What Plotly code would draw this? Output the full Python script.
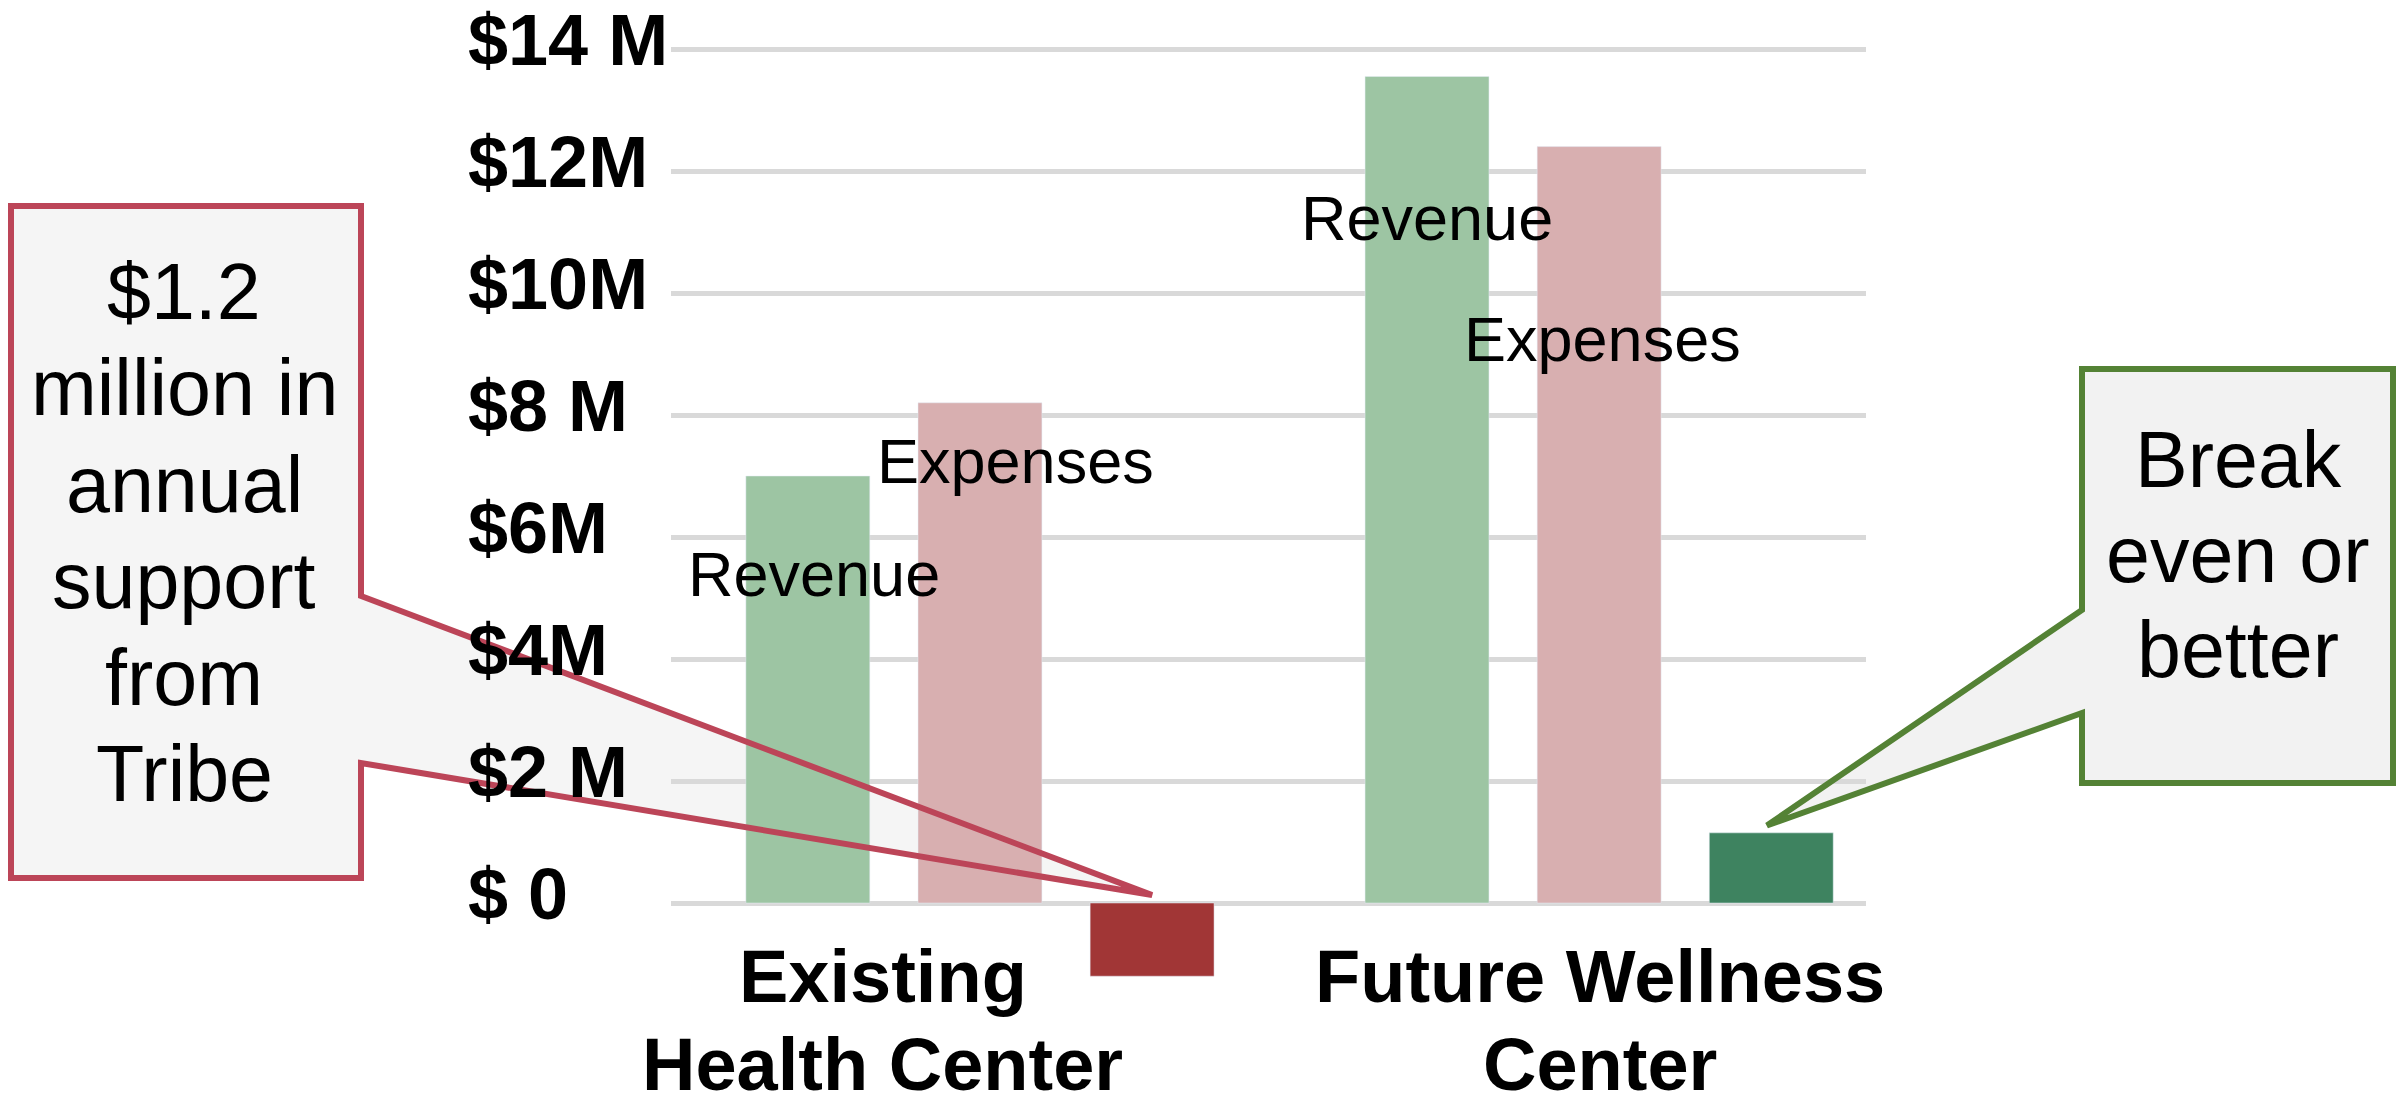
import plotly.graph_objects as go

# ---------------- data ----------------
categories = ["Existing Health Center", "Future Wellness Center"]
category_label_lines = [["Existing", "Health Center"], ["Future Wellness", "Center"]]
revenue = [7.0, 13.55]          # $ millions
expenses = [8.2, 12.4]          # $ millions
net = [-1.2, 1.15]              # $ millions
tick_values = [14, 12, 10, 8, 6, 4, 2, 0]
tick_labels = ["$14 M", "$12M", "$10M", "$8 M", "$6M", "$4M", "$2 M", "$ 0"]
red_callout_lines = ["$1.2", "million in", "annual", "support", "from", "Tribe"]
green_callout_lines = ["Break", "even or", "better"]

# ---------------- style ----------------
OFF = 8                      # default page body margin
W, H = 2408 - 2 * OFF, 1101 - 2 * OFF
FONT = "Liberation Sans, Arial, Helvetica, sans-serif"
C_REV = "#9DC5A3"
C_EXP = "#D8AFB0"
C_NET = ["#A13636", "#3E8360"]
C_GRID = "#D9D9D9"
C_RED_LINE = "#BC4558"
C_GREEN_LINE = "#548235"

ML = 671 - OFF
MR = W - (1866 - OFF)
XR = [-0.499, 1.431]
PX_PER_M = 61.0
ZERO_Y = 903 - OFF
YR = [-(H - ZERO_Y) / PX_PER_M, ZERO_Y / PX_PER_M]

def px_x(p):
    return (p - OFF - ML) / (W - ML - MR)

def px_y(p):
    return (H - (p - OFF)) / H

def dx(x):
    return (x - XR[0]) / (XR[1] - XR[0])

def dy(y):
    return (y - YR[0]) / (YR[1] - YR[0])

fig = go.Figure()
fig.add_trace(go.Bar(name="Revenue", x=categories, y=revenue, marker_color=C_REV))
fig.add_trace(go.Bar(name="Expenses", x=categories, y=expenses, marker_color=C_EXP))
fig.add_trace(go.Bar(name="Net", x=categories, y=net, marker_color=C_NET))

annotations = []
# y tick labels (left aligned)
for v, t in zip(tick_values, tick_labels):
    annotations.append(dict(x=px_x(466), y=v, xref="paper", yref="y", text=t,
                            showarrow=False, xanchor="left", yanchor="middle", yshift=9,
                            font=dict(family=FONT, size=72, color="black", weight="bold")))
# category labels
cat_x = [-0.157, 1.002]
for cx, lines in zip(cat_x, category_label_lines):
    for i, ln in enumerate(lines):
        annotations.append(dict(x=cx, y=[-1.20, -2.64][i], xref="x", yref="y", text=ln,
                                showarrow=False, xanchor="center", yanchor="middle",
                                font=dict(family=FONT, size=74, color="black", weight="bold")))
# series labels
series_labels = [("Revenue", -0.268, 5.39), ("Expenses", 0.057, 7.25),
                 ("Revenue", 0.722, 11.23), ("Expenses", 1.005, 9.24)]
for t, x, y in series_labels:
    annotations.append(dict(x=x, y=y, xref="x", yref="y", text=t, showarrow=False,
                            xanchor="center", yanchor="middle",
                            font=dict(family=FONT, size=63, color="black")))
# callout texts
for i, ln in enumerate(red_callout_lines):
    annotations.append(dict(x=px_x(184), y=px_y(291 + i * 96.5), xref="paper", yref="paper",
                            text=ln, showarrow=False, xanchor="center", yanchor="middle",
                            font=dict(family=FONT, size=79, color="black")))
for i, ln in enumerate(green_callout_lines):
    annotations.append(dict(x=px_x(2238), y=px_y(459 + i * 95), xref="paper", yref="paper",
                            text=ln, showarrow=False, xanchor="center", yanchor="middle",
                            font=dict(family=FONT, size=79, color="black")))

# callout shapes
bar_off = 0.278
def callout_path(left, right, top, bottom, b1, b2, tip, side):
    L, R, T, B = px_x(left), px_x(right), px_y(top), px_y(bottom)
    y1, y2 = px_y(b1), px_y(b2)
    tx, ty = tip
    if side == "right":
        return (f"M{L},{T} L{R},{T} L{R},{y1} L{tx},{ty} L{R},{y2} L{R},{B} L{L},{B} Z")
    return (f"M{L},{T} L{R},{T} L{R},{B} L{L},{B} L{L},{y2} L{tx},{ty} L{L},{y1} Z")

red_tip = (dx(0 + bar_off), dy(0 + 0.13))
green_tip = (dx(1 + bar_off - 0.007), dy(net[1] + 0.12))
red_path = callout_path(11, 361, 206, 878, 596, 763, red_tip, "right")
green_path = callout_path(2082, 2393, 369, 783, 610, 713, green_tip, "left")

shapes = [
    dict(type="path", path=red_path, xref="paper", yref="paper", layer="below",
         fillcolor="#F5F5F5", line=dict(width=0)),
    dict(type="path", path=red_path, xref="paper", yref="paper", layer="above",
         fillcolor="rgba(0,0,0,0)", line=dict(color=C_RED_LINE, width=6)),
    dict(type="path", path=green_path, xref="paper", yref="paper", layer="below",
         fillcolor="#F2F2F2", line=dict(width=0)),
    dict(type="path", path=green_path, xref="paper", yref="paper", layer="above",
         fillcolor="rgba(0,0,0,0)", line=dict(color=C_GREEN_LINE, width=6)),
]

fig.update_layout(
    width=W, height=H,
    margin=dict(l=ML, r=MR, t=0, b=0, autoexpand=False),
    paper_bgcolor="white", plot_bgcolor="rgba(0,0,0,0)",
    barmode="group", bargap=0.166, bargroupgap=0.28,
    showlegend=False,
    annotations=annotations, shapes=shapes,
    xaxis=dict(type="category", range=XR, showticklabels=False, showgrid=False,
               zeroline=False, showline=False, ticks=""),
    yaxis=dict(range=YR, tickvals=tick_values, showticklabels=False, showgrid=True,
               gridcolor=C_GRID, gridwidth=4.5, zeroline=False, showline=False, ticks=""),
    font=dict(family=FONT),
)

fig.write_html("out.html")
